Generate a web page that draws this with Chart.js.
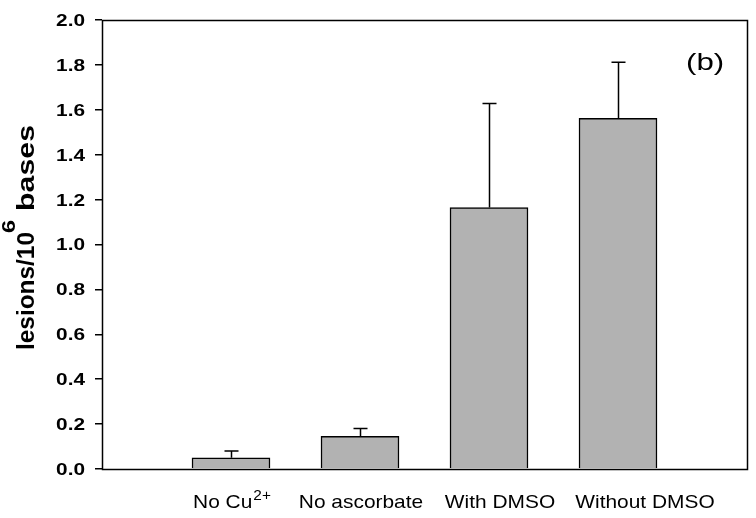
<!DOCTYPE html>
<html lang="en">
<head>
    <script src="https://cdn.jsdelivr.net/npm/chart.js"></script>
    <style>
        html, body { margin: 0; padding: 0; background: #fff; }
        #wrap { width: 756px; height: 518px; position: relative; }
    </style>
</head>
<body>
    <div id="wrap">
        <canvas id="myChart"></canvas>
    </div>

    <script>
        // data
        const positions = [1, 2, 3, 4];
        const labelMain = ['No Cu', 'No ascorbate', 'With DMSO', 'Without DMSO'];
        const labelSup = ['2+', '', '', ''];
        const lesions = [0.05, 0.145, 1.165, 1.562];
        const errTop = [0.08, 0.18, 1.628, 1.812];
        const yTicks = [0, 0.2, 0.4, 0.6, 0.8, 1.0, 1.2, 1.4, 1.6, 1.8, 2.0];

        const FONT = "'Liberation Sans', Arial, Helvetica, sans-serif";
        // labels in the original are not quite centred under their bars
        const labelShift = [1, 1, 11, 27];

        // draws text stretched along its own direction
        function stretchText(ctx, txt, x, y, sx) {
            ctx.save();
            ctx.translate(x, y);
            ctx.scale(sx, 1);
            ctx.fillText(txt, 0, 0);
            ctx.restore();
        }

        // draws text so it fills exactly len pixels
        function fitText(ctx, txt, x, y, len) {
            const w = ctx.measureText(txt).width;
            stretchText(ctx, txt, x, y, len / w);
        }

        const extras = {
            id: 'extras',
            afterDatasetsDraw(chart) {
                const ctx = chart.ctx;
                const y = chart.scales.y;
                const meta = chart.getDatasetMeta(0);
                ctx.save();
                ctx.strokeStyle = '#000';
                ctx.lineWidth = 1.5;
                meta.data.forEach((bar, i) => {
                    const x = Math.round(bar.x) + 0.5;
                    const yt = y.getPixelForValue(errTop[i]);
                    ctx.beginPath();
                    ctx.moveTo(x, bar.y);
                    ctx.lineTo(x, yt);
                    ctx.moveTo(x - 7, yt);
                    ctx.lineTo(x + 7, yt);
                    ctx.stroke();
                });
                ctx.restore();
            },
            afterDraw(chart) {
                const ctx = chart.ctx;
                const a = chart.chartArea;
                const xs = chart.scales.x;
                const ys = chart.scales.y;
                ctx.save();

                // frame
                ctx.strokeStyle = '#000';
                ctx.lineWidth = 1.5;
                ctx.strokeRect(Math.round(a.left) + 0.5, Math.round(a.top) + 0.5,
                    Math.round(a.right - a.left), Math.round(a.bottom - a.top));

                ctx.fillStyle = '#000';

                // y tick labels
                ctx.font = 'bold 16px ' + FONT;
                ctx.textAlign = 'right';
                ctx.textBaseline = 'middle';
                yTicks.forEach(v => {
                    stretchText(ctx, v.toFixed(1), 85, ys.getPixelForValue(v) + 1.5, 1.3);
                });

                // x labels
                ctx.textBaseline = 'alphabetic';
                ctx.textAlign = 'left';
                const sx = 1.1;
                positions.forEach((p, i) => {
                    ctx.font = '19px ' + FONT;
                    const wMain = ctx.measureText(labelMain[i]).width * sx;
                    ctx.font = '14px ' + FONT;
                    const wSup = labelSup[i] ? ctx.measureText(labelSup[i]).width * sx + 1 : 0;
                    const cx = xs.getPixelForValue(p) + labelShift[i];
                    const left = cx - (wMain + wSup) / 2;
                    ctx.font = '19px ' + FONT;
                    stretchText(ctx, labelMain[i], left, 508, sx);
                    if (labelSup[i]) {
                        ctx.font = '14px ' + FONT;
                        stretchText(ctx, labelSup[i], left + wMain + 1, 500, sx);
                    }
                });

                // y title, rotated (reads bottom to top)
                ctx.save();
                ctx.translate(34, 0);
                ctx.rotate(-Math.PI / 2);
                ctx.font = 'bold 23px ' + FONT;
                fitText(ctx, 'lesions/10', -350, 0, 118);
                ctx.font = 'bold 18px ' + FONT;
                fitText(ctx, '6', -233, -19, 13);
                ctx.font = 'bold 23px ' + FONT;
                fitText(ctx, 'bases', -211, 0, 86);
                ctx.restore();

                // panel tag
                ctx.font = '24px ' + FONT;
                ctx.textAlign = 'left';
                stretchText(ctx, '(b)', 686, 70, 1.3);

                ctx.restore();
            }
        };

        const ctx = document.getElementById('myChart').getContext('2d');
        const chart = new Chart(ctx, {
            type: 'bar',
            data: {
                datasets: [{
                    data: positions.map((p, i) => ({ x: p, y: lesions[i] })),
                    backgroundColor: '#b2b2b2',
                    borderColor: '#000',
                    borderWidth: 1.5,
                    barThickness: 78
                }]
            },
            options: {
                responsive: true,
                maintainAspectRatio: false,
                animation: false,
                layout: { padding: { top: 20, right: 9, left: 0, bottom: 0 } },
                plugins: {
                    legend: { display: false },
                    tooltip: { enabled: false }
                },
                scales: {
                    x: {
                        type: 'linear',
                        min: 0,
                        max: 5,
                        offset: false,
                        grid: { display: false },
                        border: { display: false },
                        ticks: { display: false },
                        afterFit(scale) { scale.height = 49; }
                    },
                    y: {
                        min: 0,
                        max: 2,
                        ticks: { display: false, stepSize: 0.2 },
                        grid: {
                            drawOnChartArea: false,
                            drawTicks: true,
                            tickLength: 7,
                            color: '#000',
                            lineWidth: 1.5
                        },
                        border: { display: false },
                        afterFit(scale) { scale.width = 102; }
                    }
                }
            },
            plugins: [extras]
        });
    </script>
</body>
</html>
